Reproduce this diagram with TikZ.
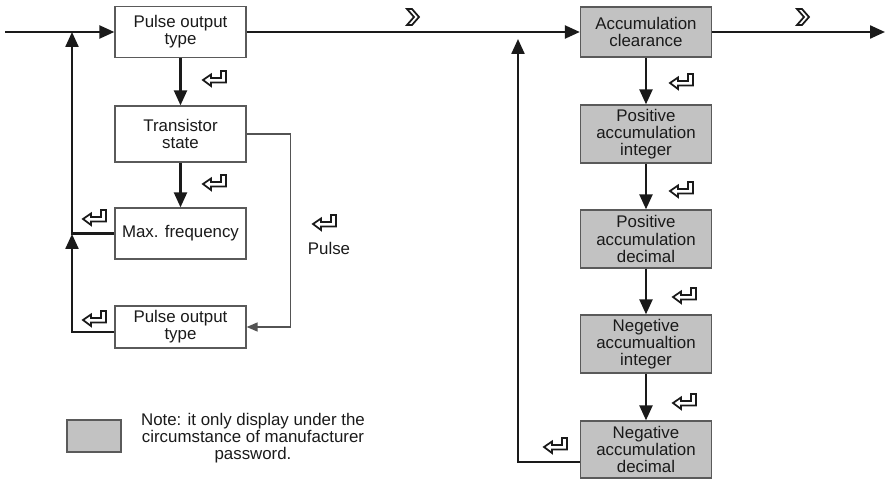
\documentclass[tikz,border=0pt]{standalone}
\usepackage{fontspec}
\setmainfont{Liberation Sans}
\usetikzlibrary{arrows.meta}
\definecolor{mnink}{HTML}{1A1A1A}
\definecolor{mnframe}{HTML}{5A5A5A}
\definecolor{mnshade}{HTML}{C2C2C2}

\begin{document}
\begin{tikzpicture}[x=0.02cm, y=-0.02cm, font=\fontsize{9.6}{9.8}\selectfont, text=mnink,
    flow/.style={draw=mnink, line width=1.3pt, -{Triangle[length=3mm, width=2.6mm]}},
    pulseflow/.style={draw=mnink!75, line width=0.9pt, -{Triangle[length=2.2mm, width=1.8mm]}},
    menu/.style={draw=mnframe, line width=0.75pt, fill=white, minimum width=2.62cm,
      minimum height=1.02cm, inner sep=1pt, align=center},
    hidden/.style={menu, fill=mnshade, minimum height=1.16cm},
    keyline/.style={draw=mnink, line width=1pt, fill=white, line join=miter},
    enterkey/.pic={
      \path[keyline] (-12,2) -- (-4,-3.5) -- (-4,0) -- (6,0) -- (6,-7) -- (11,-7)
        -- (11,4.5) -- (-4,4.5) -- (-4,8) -- cycle;
    },
    nextkey/.pic={
      \path[keyline] (-6,-8) -- (-1,-8) -- (6,0) -- (-1,8) -- (-6,8) -- (1,0) -- cycle;
    },
  ]
  \useasboundingbox (0,0) rectangle (887,480);

  % left menu: pulse output settings
  \node[menu] (pot1) at (180.5, 32) {Pulse output\\type};
  \node[menu, minimum height=1.12cm] (trans) at (180.5, 134) {Transistor\\state};
  \node[menu] (maxf) at (180.5, 233.5) {Max. frequency};
  \node[menu, minimum height=0.84cm] (pot2) at (180.5, 327) {Pulse output\\type};

  % right menu: accumulation (manufacturer password only)
  \node[hidden, minimum height=1cm] (clear) at (646, 32) {Accumulation\\clearance};
  \node[hidden] (posint) at (646, 134) {Positive\\accumulation\\integer};
  \node[hidden] (posdec) at (646, 239) {Positive\\accumulation\\decimal};
  \node[hidden] (negint) at (646, 344) {Negetive\\accumualtion\\integer};
  \node[hidden, minimum height=1.14cm] (negdec) at (646, 449.5) {Negative\\accumulation\\decimal};

  % free ends and loop corners
  \coordinate (in) at (5, 32);
  \coordinate (out) at (885, 32);
  \coordinate (loopL) at (72, 32);
  \coordinate (loopM) at (72, 234);
  \coordinate (loopR) at (518, 39);

  % main line
  \draw[flow] (in) -- (pot1);
  \draw[flow] (pot1) -- (clear);
  \draw[flow] (clear) -- (out);

  % left column
  \draw[flow] (pot1) -- (trans);
  \draw[flow] (trans) -- (maxf);
  \draw[flow] (maxf.west) -| (loopL);
  \draw[flow] ([yshift=-0.1cm]pot2.west) -| (loopM);
  \draw[pulseflow] (trans.east) -- ++(44,0) |- (pot2.east);

  % right column
  \foreach \a/\b in {clear/posint, posint/posdec, posdec/negint, negint/negdec} {
    \draw[flow] (\a) -- (\b);
  }
  \draw[flow] ([yshift=0.34cm]negdec.south west) -| (loopR);

  % key symbols
  \foreach \x/\y in {215/78, 215/182, 95/217, 95/318, 325/222,
      682/81, 682/189, 685/295, 685/401, 556/445} {
    \pic at (\x, \y) {enterkey};
  }
  \pic at (413, 17) {nextkey};
  \pic at (803, 17) {nextkey};
  \node (pulse) at (329, 248) {Pulse};

  % legend
  \node[draw=mnframe, line width=0.75pt, fill=mnshade, minimum width=1.08cm,
    minimum height=0.64cm, inner sep=0pt] (legend) at (94, 436) {};
  \node[align=center] (note) at (253, 438)
    {Note: it only display under the\\circumstance of manufacturer\\password.};
\end{tikzpicture}
\end{document}
